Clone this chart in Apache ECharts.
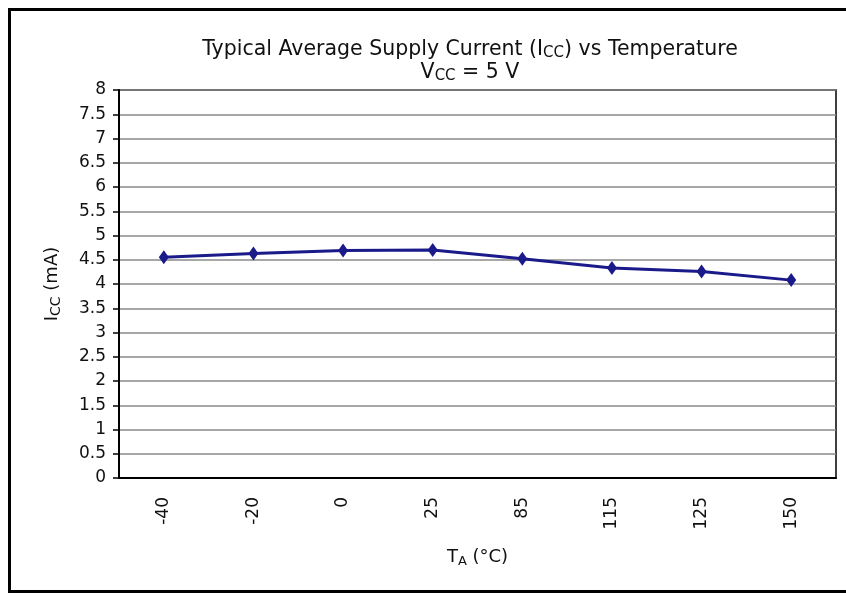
<!DOCTYPE html>
<html><head><meta charset="utf-8">
<script src="https://cdn.jsdelivr.net/npm/echarts@6/dist/echarts.min.js"></script>
<style>html,body{margin:0;padding:0;background:#fff}#c{width:846px;height:596px}</style>
</head><body><div id="c"></div>
<script>
const categories = ['-40', '-20', '0', '25', '85', '115', '125', '150'];
const iccValues = [4.55, 4.63, 4.69, 4.70, 4.52, 4.33, 4.26, 4.08];
const yTicks = { min: 0, max: 8, interval: 0.5 };

const chart = echarts.init(document.getElementById('c'));
const F = 'DejaVu Sans, Liberation Sans, Arial, sans-serif';
chart.setOption({
  animation: false,
  backgroundColor: '#fff',
  graphic: [{
    type: 'rect', shape: { x: 9.5, y: 9.5, width: 850, height: 582 },
    style: { fill: 'none', stroke: '#000', lineWidth: 3 }
  }],
  title: {
    text: '{t|Typical Average Supply Current (I}{s|CC}{t|) vs Temperature}\n{t|V}{s|CC}{t| = 5 V}',
    left: 465, top: 33, textAlign: 'center',
    textStyle: {
      fontWeight: 'normal',
      rich: {
        t: { fontFamily: F, fontSize: 20.5, fontWeight: 'normal', color: '#111', lineHeight: 23 },
        s: { fontFamily: F, fontSize: 15, fontWeight: 'normal', color: '#111', verticalAlign: 'bottom', padding: [7, 0, 0, 0], lineHeight: 23 }
      }
    }
  },
  grid: { left: 119, right: 10, top: 90, bottom: 118, show: true, borderColor: '#000', borderWidth: 1.5 },
  xAxis: {
    type: 'category', data: categories, boundaryGap: true,
    name: '{t|T}{s|A}{t| (°C)}', nameLocation: 'middle', nameGap: 68,
    nameTextStyle: { rich: {
      t: { fontFamily: F, fontSize: 18, color: '#111' },
      s: { fontFamily: F, fontSize: 13, color: '#111', padding: [9, 0, 0, 0] }
    } },
    axisLine: { lineStyle: { color: '#000', width: 2 } },
    axisTick: { length: 6, lineStyle: { color: '#000', width: 1.5 } },
    axisLabel: { rotate: 90, fontFamily: F, fontSize: 17, color: '#111', margin: 19 },
    splitLine: { show: false }
  },
  yAxis: {
    type: 'value', min: yTicks.min, max: yTicks.max, interval: yTicks.interval,
    name: '{t|I}{s|CC}{t| (mA)}', nameLocation: 'middle', nameGap: 56, nameRotate: 90,
    nameTextStyle: { rich: {
      t: { fontFamily: F, fontSize: 18, color: '#111' },
      s: { fontFamily: F, fontSize: 14, color: '#111', padding: [8, 0, 0, 0] }
    } },
    axisLine: { show: true, lineStyle: { color: '#000', width: 2 } },
    axisTick: { show: true, length: 6, lineStyle: { color: '#000', width: 1.5 } },
    axisLabel: { fontFamily: F, fontSize: 17, color: '#111', margin: 13 },
    splitLine: { show: true, lineStyle: { color: '#8a8a8a', width: 1.5 } }
  },
  series: [{
    type: 'line', data: iccValues,
    symbol: 'diamond', symbolSize: [10, 14],
    lineStyle: { color: '#1a1a8a', width: 3 },
    itemStyle: { color: '#1a1a8a' }
  }]
});
</script></body></html>
